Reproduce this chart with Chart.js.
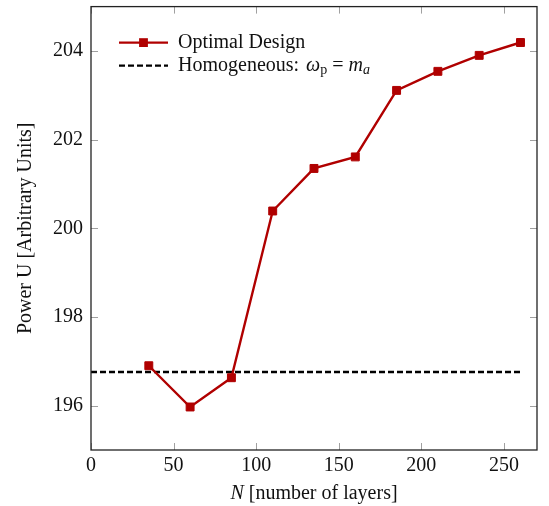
<!DOCTYPE html>
<html>
<head>
<meta charset="utf-8">
<title>Power vs number of layers</title>
<script src="https://cdn.jsdelivr.net/npm/chart.js@4/dist/chart.umd.min.js"></script>
<style>
  html, body { margin: 0; padding: 0; background: #fff; }
  #wrap { width: 549px; height: 506px; }
</style>
</head>
<body>
<div id="wrap"><canvas id="power-chart"></canvas></div>
<script>
// Values
const layers = [35, 60, 85, 110, 135, 160, 185, 210, 235, 260];
const optimalPower = [196.90, 195.97, 196.63, 200.39, 201.35, 201.61, 203.11, 203.54, 203.90, 204.19];
const homogeneousLayers = [0, 260];
const homogeneousPower = [196.76, 196.76];

const xTicks = [0, 50, 100, 150, 200, 250];
const yTicks = [196, 198, 200, 202, 204];

const seriesNames = ['Optimal Design', 'Homogeneous: '];
const xTitle = ['N', ' [number of layers]'];
const yTitle = 'Power U [Arbitrary Units]';

const FONT = '"Liberation Serif", "DejaVu Serif", serif';
const RED = '#b00000';

// inward ticks on all four sides + full frame (pgfplots style)
const framePlugin = {
    id: 'frame',
    afterDatasetsDraw(chart) {
        const { ctx, chartArea: a, scales } = chart;
        ctx.save();
        ctx.strokeStyle = '#a0a0a0';
        ctx.lineWidth = 1;
        const len = 7;
        xTicks.forEach(v => {
            const x = Math.round(scales.x.getPixelForValue(v)) + 0.5;
            ctx.beginPath();
            ctx.moveTo(x, a.bottom); ctx.lineTo(x, a.bottom - len);
            ctx.moveTo(x, a.top); ctx.lineTo(x, a.top + len);
            ctx.stroke();
        });
        yTicks.forEach(v => {
            const y = Math.round(scales.y.getPixelForValue(v)) + 0.5;
            ctx.beginPath();
            ctx.moveTo(a.left, y); ctx.lineTo(a.left + len, y);
            ctx.moveTo(a.right, y); ctx.lineTo(a.right - len, y);
            ctx.stroke();
        });
        ctx.strokeStyle = '#222';
        ctx.lineWidth = 1.3;
        ctx.strokeRect(a.left, a.top, a.right - a.left, a.bottom - a.top);
        ctx.restore();
    },
    afterDraw(chart) {
        const { ctx, chartArea: a } = chart;
        ctx.save();
        ctx.fillStyle = '#111';
        ctx.textBaseline = 'middle';

        // legend
        const x0 = a.left + 28, x1 = a.left + 77, tx = a.left + 87;
        const r1 = a.top + 36, r2 = a.top + 59;
        ctx.strokeStyle = RED;
        ctx.lineWidth = 2.4;
        ctx.beginPath(); ctx.moveTo(x0, r1); ctx.lineTo(x1, r1); ctx.stroke();
        ctx.fillStyle = RED;
        ctx.fillRect((x0 + x1) / 2 - 4.4, r1 - 4.4, 8.8, 8.8);
        ctx.strokeStyle = '#000';
        ctx.setLineDash([6, 3]);
        ctx.beginPath(); ctx.moveTo(x0, r2); ctx.lineTo(x1, r2); ctx.stroke();
        ctx.setLineDash([]);

        ctx.fillStyle = '#111';
        ctx.textAlign = 'left';
        ctx.font = '20px ' + FONT;
        ctx.fillText(seriesNames[0], tx, r1);
        let x = tx;
        ctx.fillText(seriesNames[1], x, r2);
        x += ctx.measureText(seriesNames[1]).width + 2;
        ctx.font = 'italic 20px ' + FONT;
        ctx.fillText('ω', x, r2);
        x += ctx.measureText('ω').width;
        ctx.font = '14px ' + FONT;
        ctx.fillText('p', x, r2 + 5);
        x += ctx.measureText('p').width + 5;
        ctx.font = '20px ' + FONT;
        ctx.fillText('=', x, r2);
        x += ctx.measureText('=').width + 5;
        ctx.font = 'italic 20px ' + FONT;
        ctx.fillText('m', x, r2);
        x += ctx.measureText('m').width;
        ctx.font = 'italic 14px ' + FONT;
        ctx.fillText('a', x, r2 + 5);

        // x axis title
        ctx.font = 'italic 20px ' + FONT;
        const w1 = ctx.measureText(xTitle[0]).width;
        ctx.font = '20px ' + FONT;
        const w2 = ctx.measureText(xTitle[1]).width;
        let sx = (a.left + a.right) / 2 - (w1 + w2) / 2;
        const ty = a.bottom + 44;
        ctx.font = 'italic 20px ' + FONT;
        ctx.fillText(xTitle[0], sx, ty);
        ctx.font = '20px ' + FONT;
        ctx.fillText(xTitle[1], sx + w1, ty);

        // y axis title
        ctx.translate(26, (a.top + a.bottom) / 2);
        ctx.rotate(-Math.PI / 2);
        ctx.textAlign = 'center';
        ctx.fillText(yTitle, 0, 0);
        ctx.restore();
    }
};

new Chart(document.getElementById('power-chart'), {
    type: 'line',
    data: {
        datasets: [
            {
                label: seriesNames[0],
                data: layers.map((n, i) => ({ x: n, y: optimalPower[i] })),
                borderColor: RED,
                backgroundColor: RED,
                borderWidth: 2.4,
                pointStyle: 'rect',
                pointRadius: 5.6,
                pointBorderWidth: 1,
                fill: false,
                tension: 0
            },
            {
                label: seriesNames[1],
                data: homogeneousLayers.map((n, i) => ({ x: n, y: homogeneousPower[i] })),
                borderColor: '#000',
                borderWidth: 2.4,
                borderDash: [6, 3],
                pointRadius: 0,
                fill: false
            }
        ]
    },
    options: {
        responsive: true,
        maintainAspectRatio: false,
        animation: false,
        layout: { padding: { top: 5, right: 12, left: 0, bottom: 0 } },
        plugins: {
            legend: { display: false },
            tooltip: { enabled: false }
        },
        scales: {
            x: {
                type: 'linear',
                min: 0,
                max: 270,
                afterBuildTicks: s => { s.ticks = xTicks.map(v => ({ value: v })); },
                afterFit: s => { s.height = 56; s.paddingLeft = 0; s.paddingRight = 0; },
                grid: { drawOnChartArea: false, drawTicks: false },
                border: { display: false },
                ticks: { padding: 4, color: '#111', font: { family: FONT, size: 20 } }
            },
            y: {
                min: 195,
                max: 205,
                afterBuildTicks: s => { s.ticks = yTicks.map(v => ({ value: v })); },
                afterFit: s => { s.width = 91; s.paddingTop = 0; s.paddingBottom = 0; },
                grid: { drawOnChartArea: false, drawTicks: false },
                border: { display: false },
                ticks: { padding: 8, color: '#111', font: { family: FONT, size: 20 } }
            }
        }
    },
    plugins: [framePlugin]
});
</script>
</body>
</html>
